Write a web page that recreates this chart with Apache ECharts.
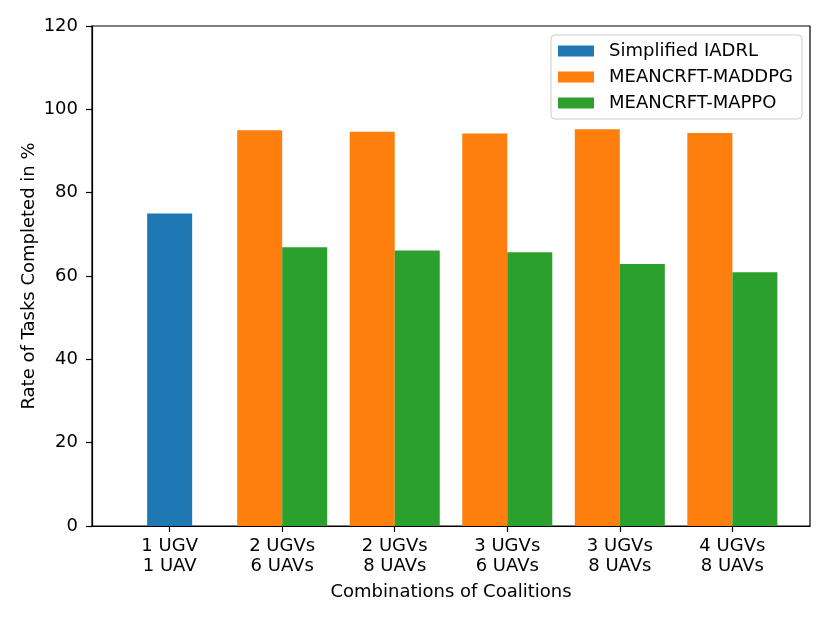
<!DOCTYPE html>
<html>
<head>
<meta charset="utf-8">
<script src="https://cdn.jsdelivr.net/npm/echarts@6/dist/echarts.min.js"></script>
<style>html,body{margin:0;padding:0;background:#fff}#c{width:830px;height:623px}</style>
</head>
<body>
<div id="c"></div>
<script>
const categories = ['1 UGV\n1 UAV', '2 UGVs\n6 UAVs', '2 UGVs\n8 UAVs', '3 UGVs\n6 UAVs', '3 UGVs\n8 UAVs', '4 UGVs\n8 UAVs'];
const seriesNames = ['Simplified IADRL', 'MEANCRFT-MADDPG', 'MEANCRFT-MAPPO'];
const iadrl = [75, null, null, null, null, null];
const maddpg = [null, 95.0, 94.6, 94.2, 95.2, 94.3];
const mappo = [null, 66.9, 66.1, 65.7, 62.9, 60.9];
const yTicks = [0, 20, 40, 60, 80, 100, 120];

const FONT = 'DejaVu Sans';
const BAR_W = 0.4;

function barSeries(name, values, offset, color) {
  return {
    type: 'custom',
    name: name,
    itemStyle: { color: color },
    encode: { x: 0, y: 1 },
    data: values.map((v, i) => [i, v]).filter(d => d[1] != null),
    renderItem: function (params, api) {
      const x = api.value(0), y = api.value(1);
      const p0 = api.coord([x + offset - BAR_W / 2, y]);
      const p1 = api.coord([x + offset + BAR_W / 2, 0]);
      return {
        type: 'rect',
        shape: { x: p0[0], y: p0[1], width: p1[0] - p0[0], height: p1[1] - p0[1] },
        style: { fill: color }
      };
    }
  };
}

const chart = echarts.init(document.getElementById('c'), null, { renderer: 'canvas' });
chart.setOption({
  animation: false,
  backgroundColor: '#fff',
  textStyle: { fontFamily: FONT },
  grid: { left: 92, right: 20, top: 26, bottom: 97, show: true, borderColor: '#000', borderWidth: 1.2, backgroundColor: 'transparent' },
  legend: {
    orient: 'vertical',
    right: 28,
    top: 35,
    padding: [7, 9, 7, 7],
    itemGap: 8,
    itemWidth: 36,
    itemHeight: 11,
    icon: 'rect',
    backgroundColor: 'rgba(255,255,255,0.8)',
    borderColor: '#cccccc',
    borderWidth: 1,
    borderRadius: 4,
    textStyle: { fontFamily: FONT, fontSize: 18, color: '#000', lineHeight: 18, padding: [0, 0, 0, 10] },
    data: seriesNames
  },
  xAxis: {
    type: 'value',
    min: -0.69,
    max: 5.69,
    splitLine: { show: false },
    axisLine: { show: true, onZero: false, lineStyle: { color: '#000', width: 1.2 } },
    axisTick: { show: true, customValues: categories.map((c, i) => i), length: 6, lineStyle: { color: '#000', width: 1.2 } },
    axisLabel: {
      customValues: categories.map((c, i) => i),
      formatter: v => categories[Math.round(v)] || '',
      fontFamily: FONT, fontSize: 18, color: '#000', lineHeight: 20, margin: 10
    },
    name: 'Combinations of Coalitions',
    nameLocation: 'middle',
    nameGap: 57,
    nameMoveOverlap: false,
    nameTextStyle: { fontFamily: FONT, fontSize: 18, color: '#000', lineHeight: 18 }
  },
  yAxis: {
    type: 'value',
    min: 0,
    max: 120,
    interval: 20,
    splitLine: { show: false },
    axisLine: { show: true, onZero: false, lineStyle: { color: '#000', width: 1.2 } },
    axisTick: { show: true, length: 6, lineStyle: { color: '#000', width: 1.2 } },
    axisLabel: { fontFamily: FONT, fontSize: 18, color: '#000', margin: 14, formatter: v => yTicks.includes(v) ? String(v) : '' },
    name: 'Rate of Tasks Completed in %',
    nameLocation: 'middle',
    nameGap: 54,
    nameMoveOverlap: false,
    nameTextStyle: { fontFamily: FONT, fontSize: 18, color: '#000', lineHeight: 18 }
  },
  series: [
    barSeries(seriesNames[0], iadrl, 0, '#1f77b4'),
    barSeries(seriesNames[1], maddpg, -0.2, '#ff7f0e'),
    barSeries(seriesNames[2], mappo, 0.2, '#2ca02c')
  ]
});
</script>
</body>
</html>
